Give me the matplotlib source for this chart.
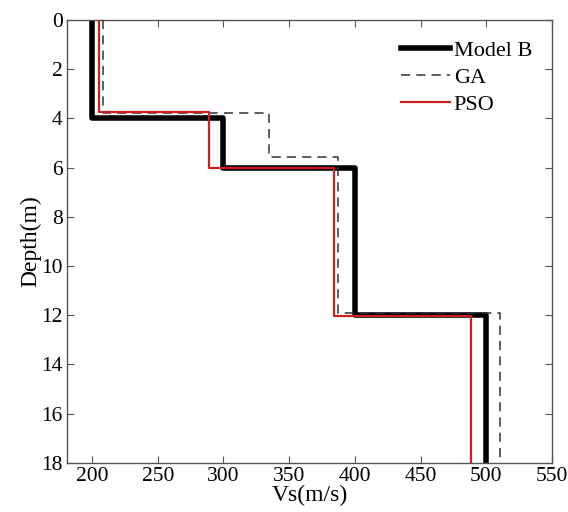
import numpy as np
import matplotlib.pyplot as plt

plt.rcParams['font.family'] = ['Liberation Serif', 'DejaVu Serif']

# layer interfaces (m) and shear-wave velocities (m/s) for each profile
model_depth = [0, 4, 6, 12, 18]
model_vs = [200, 300, 400, 500]

ga_depth = [0, 3.8, 5.55, 11.9, 18]
ga_vs = [208, 335, 387, 510]

pso_depth = [0, 3.75, 6.0, 12.05, 18]
pso_vs = [205.5, 289, 384, 488]

x_ticks = [200, 250, 300, 350, 400, 450, 500, 550]
y_ticks = [0, 2, 4, 6, 8, 10, 12, 14, 16, 18]


def profile(depth, vs):
    # staircase: each layer gives a vertical segment from its top to its bottom
    d = np.repeat(depth, 2)[1:-1]
    v = np.repeat(vs, 2)
    return v, d


fig = plt.figure(figsize=(5.68, 5.12), dpi=100)
ax = fig.add_axes([0.118, 0.096, 0.854, 0.865])

x, y = profile(model_depth, model_vs)
ax.plot(x, y, color='black', lw=4, label='Model B', zorder=2)
x, y = profile(ga_depth, ga_vs)
ax.plot(x, y, color='#333333', lw=1.1, ls=(0, (6, 4)), label='GA', zorder=3)
x, y = profile(pso_depth, pso_vs)
ax.plot(x, y, color='#cc2020', lw=1.6, label='PSO', zorder=4)

ax.set_xlim(181, 550)
ax.set_ylim(18, 0)
ax.set_xticks(x_ticks)
ax.set_yticks(y_ticks)
ax.tick_params(direction='in', length=5, labelsize=15.5, color='#555555',
               top=True, right=True, pad=3)
for s in ax.spines.values():
    s.set_color('#555555')
    s.set_linewidth(1.0)

ax.set_xlabel('Vs(m/s)', fontsize=17, labelpad=-1)
ax.set_ylabel('Depth(m)', fontsize=17, labelpad=0)

ax.legend(loc='upper right', frameon=False, fontsize=16, handlelength=2.2,
          handletextpad=0.15, labelspacing=0.3, borderaxespad=0.5)

fig.savefig('out.png', dpi=100)
